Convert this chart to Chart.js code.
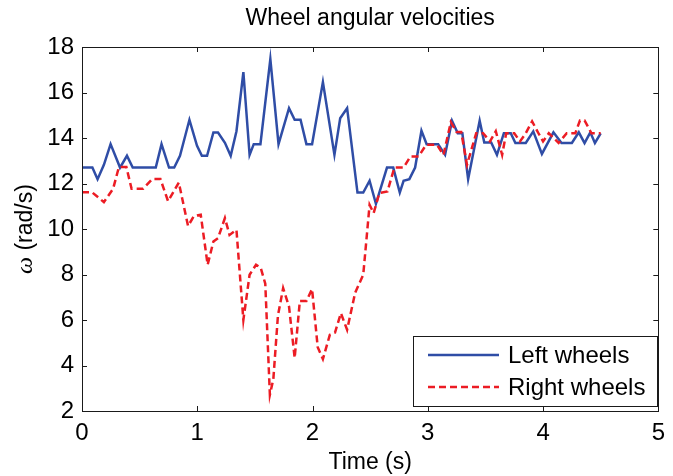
<!DOCTYPE html>
<html>
<head>
<meta charset="utf-8">
<script src="https://cdn.jsdelivr.net/npm/chart.js@4.4.0/dist/chart.umd.min.js"></script>
<style>
  html, body { margin: 0; padding: 0; background: #fff; }
  canvas { display: block; }
</style>
</head>
<body>
<canvas id="grafico" width="673" height="476"></canvas>
<script>
// tiempos (s) y velocidades (rad/s)
const leftTime = [0, 0.09, 0.135, 0.19, 0.248, 0.33, 0.39, 0.44, 0.64, 0.69, 0.755, 0.80, 0.85, 0.932, 0.998,
  1.04, 1.085, 1.14, 1.18, 1.24, 1.29, 1.34, 1.40, 1.454, 1.49, 1.548, 1.634, 1.705, 1.796, 1.845, 1.896, 1.947, 1.996,
  2.09, 2.19, 2.24, 2.30, 2.39, 2.44, 2.495, 2.55, 2.646, 2.70, 2.757, 2.79, 2.84, 2.89, 2.945, 2.99,
  3.09, 3.15, 3.21, 3.26, 3.30, 3.35, 3.45, 3.49, 3.55, 3.60, 3.66, 3.72, 3.76, 3.85, 3.915, 3.99,
  4.09, 4.16, 4.25, 4.31, 4.36, 4.41, 4.45, 4.50];
const leftOmega = [12.7, 12.7, 12.19, 12.82, 13.73, 12.7, 13.22, 12.7, 12.7, 13.73, 12.7, 12.7, 13.22, 14.8, 13.66,
  13.22, 13.22, 14.24, 14.24, 13.79, 13.22, 14.3, 16.9, 13.26, 13.73, 13.73, 17.47, 13.73, 15.31, 14.8, 14.8, 13.73, 13.73,
  16.46, 13.26, 14.87, 15.31, 11.6, 11.6, 12.12, 11.11, 12.7, 12.7, 11.6, 12.12, 12.19, 12.7, 14.32, 13.73,
  13.73, 13.26, 14.76, 14.21, 14.21, 12.19, 14.76, 13.8, 13.8, 13.26, 14.21, 14.21, 13.78, 13.78, 14.29, 13.3,
  14.25, 13.78, 13.78, 14.25, 13.78, 14.25, 13.78, 14.2];

const rightTime = [0, 0.086, 0.19, 0.27, 0.32, 0.385, 0.43, 0.53, 0.61, 0.68, 0.747, 0.84, 0.92, 0.97,
  1.03, 1.09, 1.14, 1.18, 1.24, 1.28, 1.34, 1.40, 1.454, 1.51, 1.55, 1.59, 1.63, 1.66, 1.70, 1.745, 1.796, 1.845, 1.89, 1.947, 1.996,
  2.045, 2.09, 2.15, 2.195, 2.246, 2.30, 2.37, 2.44, 2.495, 2.53, 2.58, 2.65, 2.71, 2.79, 2.85, 2.92, 2.985,
  3.08, 3.136, 3.20, 3.25, 3.29, 3.34, 3.42, 3.48, 3.54, 3.59, 3.645, 3.68, 3.75, 3.80, 3.85, 3.905, 3.96,
  4.0, 4.05, 4.135, 4.205, 4.28, 4.32, 4.36, 4.42, 4.50];
const rightOmega = [11.62, 11.62, 11.18, 11.77, 12.72, 12.72, 11.77, 11.77, 12.2, 12.2, 11.22, 12.04, 10.13, 10.56,
  10.63, 8.43, 9.45, 9.6, 10.48, 9.74, 9.96, 6.0, 7.99, 8.43, 8.3, 7.6, 2.71, 3.4, 6.2, 7.4, 6.59, 4.33, 6.84, 6.84, 7.36,
  4.8, 4.28, 5.35, 5.45, 6.3, 5.57, 7.2, 7.99, 11.06, 10.7, 11.58, 11.65, 12.7, 12.7, 13.19, 13.19, 13.7,
  13.7, 13.26, 14.7, 14.26, 14.26, 12.82, 14.21, 14.21, 13.85, 14.3, 13.26, 14.21, 14.21, 13.85, 14.21, 14.73, 14.21,
  13.85, 14.21, 13.78, 14.21, 14.21, 14.77, 14.77, 14.21, 14.21];

const xTicks = [0, 1, 2, 3, 4, 5];
const yTicks = [2, 4, 6, 8, 10, 12, 14, 16, 18];
const seriesNames = ['Left wheels', 'Right wheels'];
const chartTitle = 'Wheel angular velocities';
const yLabelSymbol = 'ω';
const yLabelUnit = ' (rad/s)';

const FUENTE = "'Liberation Sans', Arial, sans-serif";
const AZUL = '#2f4da6';
const ROJO = '#ec1c24';

// titulo, etiqueta Y, marco del eje, marcas hacia dentro y leyenda al estilo MATLAB
const marcoPlugin = {
  id: 'marco',
  afterDraw(chart) {
    const { ctx, chartArea: a, scales: { x, y } } = chart;
    ctx.save();

    ctx.fillStyle = '#000';
    ctx.font = '23px ' + FUENTE;
    ctx.textAlign = 'center';
    ctx.textBaseline = 'middle';
    ctx.fillText(chartTitle, (a.left + a.right) / 2, 19);

    // etiqueta del eje Y con omega en cursiva
    ctx.save();
    ctx.translate(26, (a.top + a.bottom) / 2);
    ctx.rotate(-Math.PI / 2);
    ctx.textAlign = 'left';
    const fSim = "italic 24px 'Liberation Serif', serif";
    const fUni = '23px ' + FUENTE;
    ctx.font = fSim;
    const w1 = ctx.measureText(yLabelSymbol).width;
    ctx.font = fUni;
    const w2 = ctx.measureText(yLabelUnit).width;
    let x0 = -(w1 + w2) / 2;
    ctx.font = fSim;
    ctx.fillText(yLabelSymbol, x0, 0);
    ctx.font = fUni;
    ctx.fillText(yLabelUnit, x0 + w1, 0);
    ctx.restore();

    ctx.strokeStyle = '#1a1a1a';
    ctx.lineWidth = 1;
    ctx.strokeRect(Math.round(a.left) + 0.5, Math.round(a.top) + 0.5,
      Math.round(a.right - a.left), Math.round(a.bottom - a.top));
    const L = 5;
    ctx.beginPath();
    xTicks.forEach(v => {
      const px = Math.round(x.getPixelForValue(v)) + 0.5;
      ctx.moveTo(px, a.bottom); ctx.lineTo(px, a.bottom - L);
      ctx.moveTo(px, a.top); ctx.lineTo(px, a.top + L);
    });
    yTicks.forEach(v => {
      const py = Math.round(y.getPixelForValue(v)) + 0.5;
      ctx.moveTo(a.left, py); ctx.lineTo(a.left + L, py);
      ctx.moveTo(a.right, py); ctx.lineTo(a.right - L, py);
    });
    ctx.stroke();

    // leyenda
    const bx = 413.5, by = 336.5, bw = 244, bh = 70;
    ctx.fillStyle = '#fff';
    ctx.fillRect(bx, by, bw, bh);
    ctx.strokeStyle = '#1a1a1a';
    ctx.strokeRect(bx, by, bw, bh);
    const filas = [355, 387];
    chart.data.datasets.forEach((ds, i) => {
      const yy = filas[i];
      ctx.beginPath();
      ctx.strokeStyle = ds.borderColor;
      ctx.lineWidth = ds.borderWidth;
      ctx.setLineDash(ds.borderDash || []);
      ctx.moveTo(428, yy); ctx.lineTo(499, yy);
      ctx.stroke();
      ctx.setLineDash([]);
      ctx.fillStyle = '#000';
      ctx.font = '24px ' + FUENTE;
      ctx.textBaseline = 'middle';
      ctx.textAlign = 'left';
      ctx.fillText(ds.label, 508, yy + 1);
    });
    ctx.restore();
  }
};

const ctx = document.getElementById('grafico');

new Chart(ctx, {
  type: 'scatter',
  data: {
    datasets: [
      {
        label: seriesNames[0],
        data: leftTime.map((t, i) => ({ x: t, y: leftOmega[i] })),
        showLine: true,
        borderColor: AZUL,
        borderWidth: 2.5,
        pointRadius: 0,
        tension: 0,
        order: 1
      },
      {
        label: seriesNames[1],
        data: rightTime.map((t, i) => ({ x: t, y: rightOmega[i] })),
        showLine: true,
        borderColor: ROJO,
        borderWidth: 2.5,
        borderDash: [7, 4],
        pointRadius: 0,
        tension: 0,
        order: 0
      }
    ]
  },
  options: {
    responsive: false,
    animation: false,
    layout: { padding: { left: 0, right: 7, top: 47, bottom: 0 } },
    plugins: {
      legend: { display: false },
      tooltip: { enabled: false },
      title: { display: false }
    },
    scales: {
      x: {
        type: 'linear',
        min: 0,
        max: 5,
        afterFit: s => { s.height = 65; },
        afterBuildTicks: s => { s.ticks = xTicks.map(v => ({ value: v })); },
        grid: { display: false, drawTicks: false },
        border: { display: false },
        ticks: { color: '#000', padding: 8, font: { family: FUENTE, size: 24 } },
        title: {
          display: true,
          text: 'Time (s)',
          color: '#000',
          font: { family: FUENTE, size: 23 },
          padding: { top: 0, bottom: 0 }
        }
      },
      y: {
        type: 'linear',
        min: 2,
        max: 18,
        afterFit: s => { s.width = 82; },
        afterBuildTicks: s => { s.ticks = yTicks.map(v => ({ value: v })); },
        grid: { display: false, drawTicks: false },
        border: { display: false },
        ticks: { color: '#000', padding: 8, font: { family: FUENTE, size: 24 } },
        title: { display: false }
      }
    }
  },
  plugins: [marcoPlugin]
});
</script>
</body>
</html>
